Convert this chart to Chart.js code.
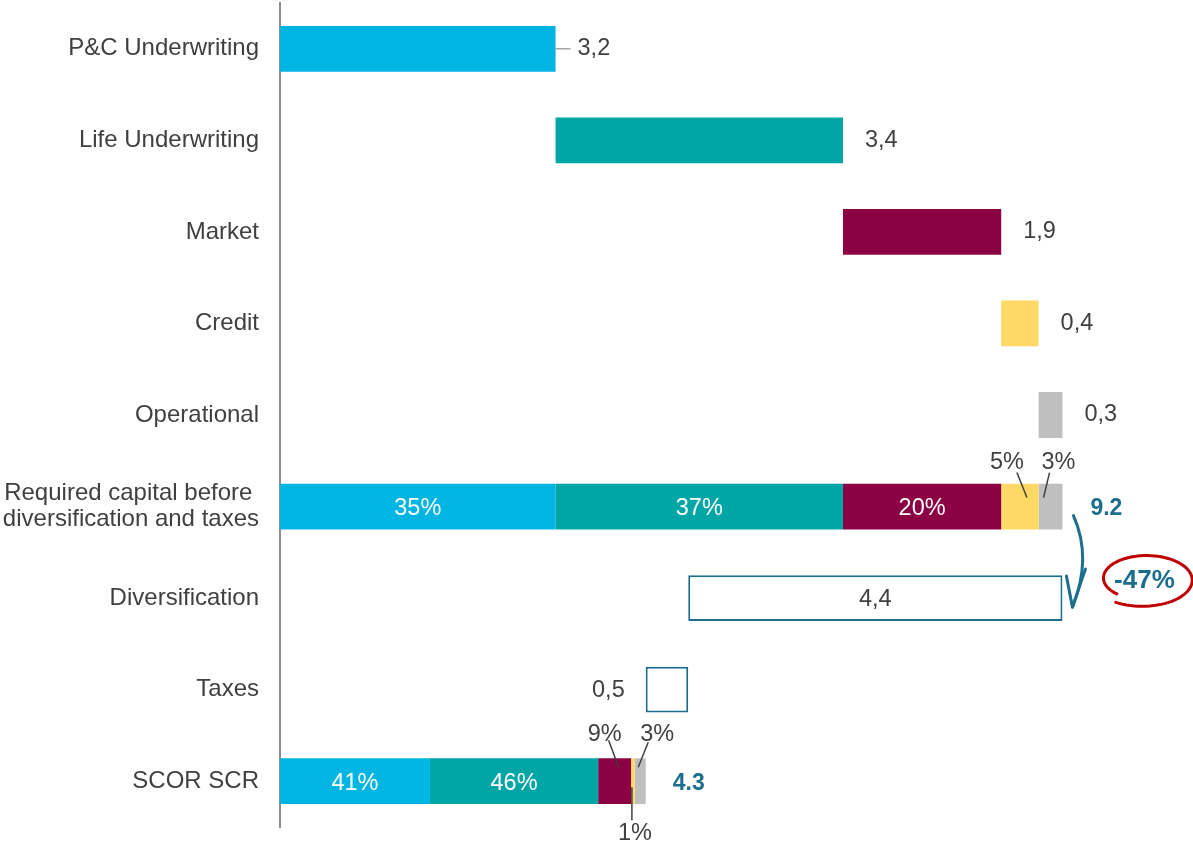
<!DOCTYPE html>
<html>
<head>
<meta charset="utf-8">
<script src="https://cdn.jsdelivr.net/npm/chart.js@4.4.1/dist/chart.umd.min.js"></script>
<style>
  html, body { margin: 0; padding: 0; background: #fff; }
  #wrap { width: 1193px; height: 845px; position: relative; }
</style>
</head>
<body>
<div id="wrap"><canvas id="c"></canvas></div>
<script>
const categories = ['P&C Underwriting', 'Life Underwriting', 'Market', 'Credit', 'Operational',
  ['Required capital before ', 'diversification and taxes'], 'Diversification', 'Taxes', 'SCOR SCR'];
const riskNames = ['P&C Underwriting', 'Life Underwriting', 'Market', 'Credit', 'Operational'];
const riskValues = [3.24, 3.38, 1.86, 0.44, 0.28];
const riskColors = ['#00B5E2', '#00A6A6', '#8C0044', '#FFD966', '#BFBFBF'];
const totalBefore = 9.2;
const diversification = 4.4;
const diversificationPct = -47;
const taxes = 0.5;
const scorScr = 4.3;
const sharesBefore = [35, 37, 20, 5, 3];
const sharesScr = [41, 46, 9, 1, 3];

const ink = '#404040';
const teal = '#1B6E8C';
const FONT = '"Liberation Sans", Arial, sans-serif';

// running starts of the waterfall steps
const starts = [];
let acc = 0;
riskValues.forEach(v => { starts.push(acc); acc += v; });

// SCR split by share
const scrSeg = [];
let acc2 = 0;
sharesScr.forEach(s => { const v = scorScr * s / 100; scrSeg.push([acc2, acc2 + v]); acc2 += v; });

const datasets = riskNames.map((name, i) => {
  const d = categories.map(() => null);
  d[i] = [starts[i], starts[i] + riskValues[i]];
  d[5] = [starts[i], starts[i] + riskValues[i]];
  d[8] = scrSeg[i];
  return { label: name, data: d, backgroundColor: riskColors[i], borderWidth: 0 };
});
const divData = categories.map(() => null);
divData[6] = [totalBefore - diversification, totalBefore];
const taxData = categories.map(() => null);
taxData[7] = [scorScr, scorScr + taxes];
datasets.push({ label: 'Diversification', data: divData, backgroundColor: '#fff',
  borderColor: teal, borderWidth: 2, borderSkipped: false });
datasets.push({ label: 'Taxes', data: taxData, backgroundColor: '#fff',
  borderColor: teal, borderWidth: 2, borderSkipped: false });

const labelsPlugin = {
  id: 'labels',
  afterDatasetsDraw(chart) {
    const ctx = chart.ctx, xs = chart.scales.x, ys = chart.scales.y;
    const px = v => xs.getPixelForValue(v);
    const py = i => ys.getPixelForValue(i);
    const half = 23;
    const comma = v => v.toFixed(1).replace('.', ',');
    function text(s, x, y, align, color, font) {
      ctx.save();
      ctx.font = font || ('23.5px ' + FONT);
      ctx.fillStyle = color || ink;
      ctx.textAlign = align || 'center';
      ctx.textBaseline = 'middle';
      ctx.fillText(s, x, y);
      ctx.restore();
    }
    function line(x1, y1, x2, y2, color, w) {
      ctx.save();
      ctx.strokeStyle = color || ink;
      ctx.lineWidth = w || 1.5;
      ctx.beginPath(); ctx.moveTo(x1, y1); ctx.lineTo(x2, y2); ctx.stroke();
      ctx.restore();
    }

    // step values
    riskValues.forEach((v, i) => {
      const end = px(starts[i] + v);
      if (i === 0) line(end, py(0), end + 15, py(0), '#A6A6A6', 1.5);
      text(comma(v), end + 22, py(i), 'left');
    });

    // required capital row
    const yb = py(5), topB = yb - half;
    sharesBefore.forEach((s, i) => {
      const c = px(starts[i] + riskValues[i] / 2);
      if (i < 3) text(s + '%', c, yb + 2, 'center', '#fff');
    });
    {
      const c3 = px(starts[3] + riskValues[3] / 2), c4 = px(starts[4] + riskValues[4] / 2);
      text(sharesBefore[3] + '%', c3 - 13, topB - 21);
      line(c3 - 3, topB - 11, c3 + 7, topB + 14);
      text(sharesBefore[4] + '%', c4 + 8, topB - 21);
      line(c4 - 1, topB - 11, c4 - 7, topB + 14);
    }
    text(String(totalBefore), px(totalBefore) + 28, yb + 2, 'left', teal, 'bold 23px ' + FONT);

    // diversification and taxes
    text(comma(diversification), px(totalBefore - diversification / 2), py(6) + 1);
    text(comma(taxes), px(scorScr) - 21, py(7) + 1, 'right');

    // SCR row
    const ys8 = py(8), topS = ys8 - half, botS = ys8 + half;
    const cs = scrSeg.map(r => px((r[0] + r[1]) / 2));
    text(sharesScr[0] + '%', cs[0], ys8 + 2, 'center', '#fff');
    text(sharesScr[1] + '%', cs[1], ys8 + 2, 'center', '#fff');
    text(sharesScr[2] + '%', cs[2] - 10, topS - 24);
    line(cs[2] - 6, topS - 18, cs[2] + 4, topS + 9);
    text(sharesScr[4] + '%', cs[4] + 17, topS - 24);
    line(cs[4] + 8, topS - 16, cs[4] - 2, topS + 9);
    text(sharesScr[3] + '%', cs[3] + 2, botS + 29);
    line(cs[3] - 1, ys8 + 6, cs[3] - 1, botS + 16);
    text(String(scorScr), px(scorScr) + 27, ys8 + 2, 'left', teal, 'bold 23px ' + FONT);

    // curved arrow from total to diversification
    const ax = px(totalBefore);
    ctx.save();
    ctx.strokeStyle = teal; ctx.lineWidth = 3; ctx.lineCap = 'round'; ctx.lineJoin = 'round';
    ctx.beginPath();
    ctx.moveTo(ax + 11, yb + 9);
    ctx.quadraticCurveTo(ax + 30, py(6) - 40, ax + 10, py(6) + 9);
    ctx.stroke();
    ctx.beginPath();
    ctx.moveTo(ax + 4, py(6) - 22);
    ctx.lineTo(ax + 10, py(6) + 9);
    ctx.lineTo(ax + 23, py(6) - 29);
    ctx.stroke();
    ctx.restore();

    // red hand-drawn circle around the percentage
    const cx = ax + 82, cy = py(6) - 19;
    ctx.save();
    ctx.strokeStyle = '#C00000'; ctx.lineWidth = 3; ctx.lineCap = 'round';
    ctx.beginPath();
    const a0 = 2.35, a1 = a0 + 2 * Math.PI - 0.2;
    for (let k = 0; k <= 80; k++) {
      const t = k / 80, a = a0 + (a1 - a0) * t;
      const g = 0.8 + 0.27 * t;
      const x = cx + 49 * g * Math.cos(a), y = cy + 26 * g * Math.sin(a);
      if (k === 0) ctx.moveTo(x, y); else ctx.lineTo(x, y);
    }
    ctx.stroke();
    ctx.restore();
    text(diversificationPct + '%', cx, cy + 2, 'center', teal, 'bold 26px ' + FONT);
  }
};

new Chart(document.getElementById('c'), {
  type: 'bar',
  data: { labels: categories, datasets: datasets },
  options: {
    indexAxis: 'y',
    responsive: true,
    maintainAspectRatio: false,
    animation: false,
    layout: { padding: { left: 0, right: 20, top: 3, bottom: 18 } },
    datasets: { bar: { grouped: false, barPercentage: 0.5, categoryPercentage: 1 } },
    scales: {
      x: { display: false, min: 0, max: 10.5 },
      y: {
        grid: { display: false },
        border: { display: true, color: '#8C8C8C', width: 2 },
        ticks: { color: ink, padding: 13, font: { family: FONT, size: 24, lineHeight: 1.08 } },
        afterFit: (axis) => { axis.width = 280; axis.paddingTop = 0; axis.paddingBottom = 0; }
      }
    },
    plugins: { legend: { display: false }, tooltip: { enabled: false } }
  },
  plugins: [labelsPlugin]
});
</script>
</body>
</html>
